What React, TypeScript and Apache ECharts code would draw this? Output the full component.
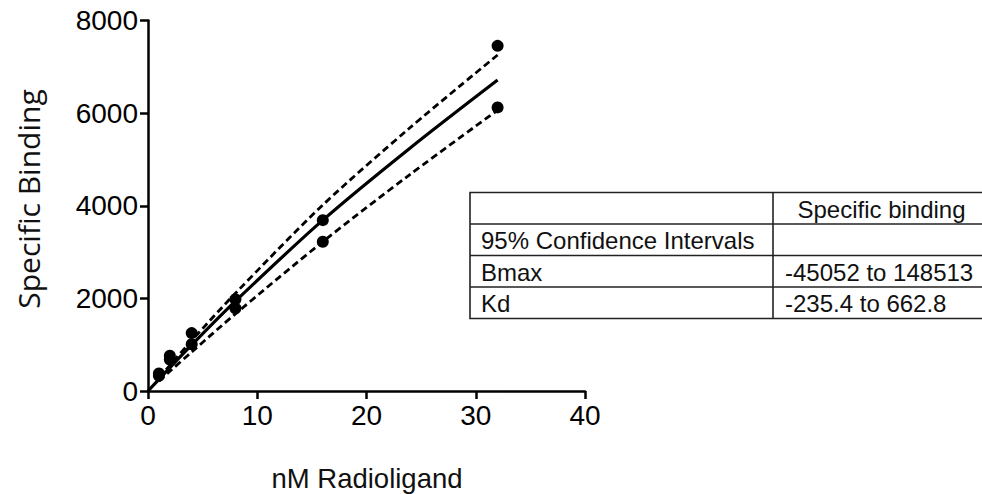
import React, { useEffect, useRef } from "react";
import * as echarts from "echarts";

// Measured data: concentration (nM) and specific binding replicates
const concentrations = [1, 1, 2, 2, 4, 4, 8, 8, 16, 16, 32, 32];
const bindingValues = [380, 330, 760, 680, 1250, 1010, 1980, 1785, 3690, 3225, 7455, 6125];

// Fitted curve
const fitX = [0, 1, 2, 4, 8, 16, 24, 32];
const fitY = [0, 253, 505, 996, 1940, 3690, 5250, 6717];

// 95% confidence band (dashed)
const bandX = [1, 2, 4, 8, 16, 24, 32];
const upperY = [279, 554, 1091, 2110, 4017, 5690, 7257];
const lowerY = [214, 426, 843, 1665, 3225, 4680, 6065];

// Axis ticks
const xTicks = { min: 0, max: 40, interval: 10 };
const yTicks = { min: 0, max: 8000, interval: 2000 };

// Table content
const tableHeader = ["", "Specific binding"];
const tableRows = [
  ["95% Confidence Intervals", ""],
  ["Bmax", "-45052 to 148513"],
  ["Kd", "-235.4 to 662.8"],
];

const FONT = "Liberation Sans, Arial, Helvetica, sans-serif";

export default function App() {
  const ref = useRef<HTMLDivElement>(null);
  useEffect(() => {
    if (!ref.current) return;
    const chart = echarts.init(ref.current, null, { renderer: "svg" });

    const pair = (xs: number[], ys: number[]) => xs.map((x, i) => [x, ys[i]]);

    // Table geometry
    const tLeft = 470;
    const tTop = 192.5;
    const tRight = 990;
    const colX = 773;
    const rowH = 31.5;
    const nRows = 1 + tableRows.length;
    const tBottom = tTop + rowH * nRows;
    const lineStyle = { stroke: "#222", lineWidth: 1.6 };
    const tableEls: any[] = [];
    tableEls.push({
      type: "rect",
      shape: { x: tLeft, y: tTop, width: tRight - tLeft, height: tBottom - tTop },
      style: { fill: "#fff", ...lineStyle },
      z: 10,
    });
    for (let i = 1; i < nRows; i++) {
      tableEls.push({
        type: "line",
        shape: { x1: tLeft, y1: tTop + rowH * i, x2: tRight, y2: tTop + rowH * i },
        style: lineStyle,
        z: 11,
      });
    }
    tableEls.push({
      type: "line",
      shape: { x1: colX, y1: tTop, x2: colX, y2: tBottom },
      style: lineStyle,
      z: 11,
    });
    const cellFont = { fontSize: 24, fontFamily: FONT, fill: "#111" };
    tableEls.push({
      type: "text",
      x: (colX + tRight) / 2,
      y: tTop + rowH / 2 + 1,
      style: { text: tableHeader[1], align: "center", verticalAlign: "middle", ...cellFont },
      z: 12,
    });
    tableRows.forEach((row, i) => {
      const cy = tTop + rowH * (i + 1) + rowH / 2 + 1;
      tableEls.push({
        type: "text",
        x: tLeft + 11,
        y: cy,
        style: { text: row[0], align: "left", verticalAlign: "middle", ...cellFont },
        z: 12,
      });
      if (row[1]) {
        tableEls.push({
          type: "text",
          x: colX + 12,
          y: cy,
          style: { text: row[1], align: "left", verticalAlign: "middle", ...cellFont },
          z: 12,
        });
      }
    });

    chart.setOption({
      animation: false,
      backgroundColor: "#fff",
      grid: { left: 148, top: 20.6, width: 437, height: 370.4, containLabel: false },
      xAxis: {
        type: "value",
        ...xTicks,
        axisLine: { show: true, lineStyle: { color: "#000", width: 2.5 } },
        axisTick: { show: true, length: 8, lineStyle: { color: "#000", width: 2.5 } },
        axisLabel: { color: "#000", fontSize: 28, fontFamily: FONT, margin: 10 },
        splitLine: { show: false },
      },
      yAxis: {
        type: "value",
        ...yTicks,
        axisLine: { show: true, lineStyle: { color: "#000", width: 2.5 } },
        axisTick: { show: true, length: 8, lineStyle: { color: "#000", width: 2.5 } },
        axisLabel: {
          color: "#000",
          fontSize: 28,
          fontFamily: FONT,
          margin: 10,
          formatter: (v: number) => String(v),
        },
        splitLine: { show: false },
      },
      series: [
        {
          type: "line",
          data: pair(fitX, fitY),
          smooth: 0.3,
          showSymbol: false,
          lineStyle: { color: "#000", width: 3.2 },
          z: 3,
        },
        {
          type: "line",
          data: pair(bandX, upperY),
          smooth: 0.3,
          showSymbol: false,
          lineStyle: { color: "#000", width: 2.8, type: [7, 4] },
          z: 3,
        },
        {
          type: "line",
          data: pair(bandX, lowerY),
          smooth: 0.3,
          showSymbol: false,
          lineStyle: { color: "#000", width: 2.8, type: [7, 4] },
          z: 3,
        },
        {
          type: "scatter",
          data: pair(concentrations, bindingValues),
          symbol: "circle",
          symbolSize: 12,
          itemStyle: { color: "#000", opacity: 1 },
          z: 4,
        },
      ],
      graphic: [
        {
          type: "text",
          x: 28,
          y: 199,
          rotation: Math.PI / 2,
          style: {
            text: "Specific Binding",
            align: "center",
            verticalAlign: "middle",
            fontSize: 30,
            fontFamily: "Open Sans, sans-serif",
            fill: "#111",
          },
        },
        {
          type: "text",
          x: 367,
          y: 478,
          style: {
            text: "nM Radioligand",
            align: "center",
            verticalAlign: "middle",
            fontSize: 27.5,
            fontFamily: FONT,
            fill: "#111",
          },
        },
        ...tableEls,
      ],
    });
    return () => chart.dispose();
  }, []);
  return (
    <div
      ref={ref}
      style={{ position: "fixed", left: 0, top: 0, width: 982, height: 494, background: "#fff" }}
    />
  );
}
